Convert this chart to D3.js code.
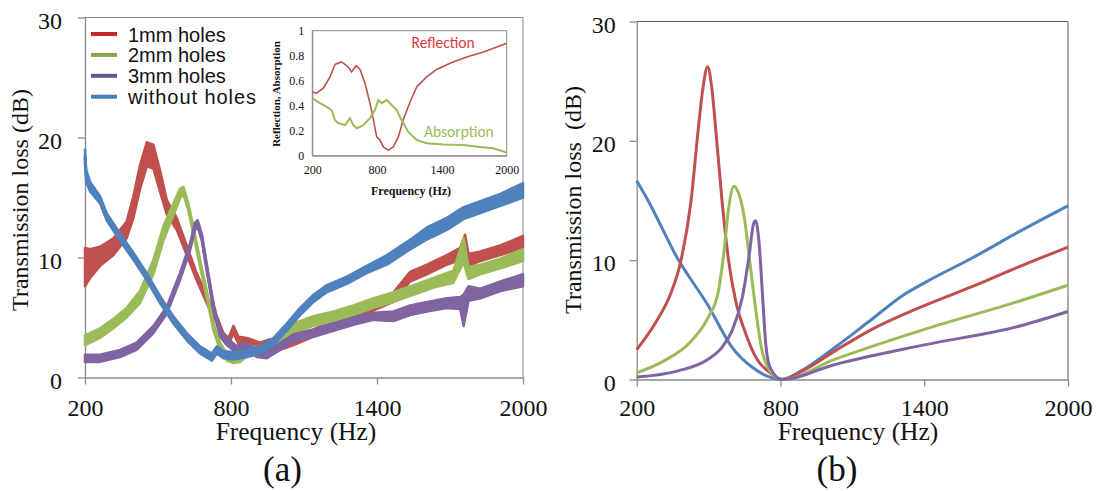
<!DOCTYPE html>
<html><head><meta charset="utf-8">
<script src="https://cdn.jsdelivr.net/npm/d3@7"></script>
<style>body{margin:0;background:#fff}svg{display:block}</style>
</head><body>
<script>
// ---------- DATA ----------
const xTicks = [200, 800, 1400, 2000];
const yTicks = [0, 10, 20, 30];
const insetYTicks = [0, 0.2, 0.4, 0.6, 0.8, 1];
const seriesNames = ["1mm holes", "2mm holes", "3mm holes", "without holes"];

// Panel (a): measured (noisy) transmission loss, value and noise half-width
const aRedF   = [200,221,262,317,371,399,426,454,481,508,536,577,618,659,700,742,769,790,810,831,865,920,961,1002,1057,1139,1221,1303,1386,1468,1536,1605,1687,1742,1762,1776,1825,1907,2000];
const aRedV   = [9.2,9.5,10.1,10.9,12.3,14.2,16.7,18.6,18.4,16.4,14.2,12.8,10.6,8.4,6.5,4.8,3.4,3.0,4.0,3.1,3.0,2.6,2.9,2.6,3.0,3.7,4.5,5.1,5.9,6.7,8.4,9.0,9.8,10.3,11.3,9.8,10.1,10.6,11.3];
const aRedS   = [1.6,1.2,0.8,0.7,0.7,0.9,1.0,1.0,1.0,0.9,0.6,0.5,0.4,0.3,0.3,0.3,0.3,0.3,0.3,0.3,0.3,0.3,0.3,0.3,0.3,0.3,0.3,0.3,0.3,0.4,0.4,0.4,0.4,0.5,0.6,0.5,0.4,0.4,0.5];

const aGreenF = [200,262,317,371,426,481,522,563,590,604,625,645,673,700,728,755,783,810,838,879,920,975,1057,1139,1221,1303,1386,1468,1550,1632,1714,1756,1776,1825,1907,2000];
const aGreenV = [3.1,3.7,4.5,5.4,6.7,9.2,12.0,14.0,15.3,15.6,14.2,12.3,9.5,7.0,4.2,2.6,1.7,1.5,1.6,2.3,2.2,2.9,4.1,4.7,5.1,5.6,6.2,6.7,7.3,7.9,8.4,10.6,8.7,9.0,9.5,10.2];
const aGreenS = [0.4,0.4,0.4,0.4,0.5,0.6,0.6,0.5,0.4,0.3,0.3,0.3,0.3,0.3,0.3,0.3,0.3,0.3,0.3,0.3,0.3,0.3,0.4,0.4,0.4,0.4,0.4,0.4,0.4,0.4,0.5,1.0,0.5,0.4,0.4,0.5];

const aPurpleF = [200,262,344,412,481,536,590,632,652,663,680,700,728,755,783,824,865,906,947,1002,1057,1139,1221,1303,1386,1468,1536,1605,1687,1742,1756,1776,1825,1907,2000];
const aPurpleV = [1.6,1.6,2.0,2.6,4.0,5.6,8.4,10.9,12.6,12.8,11.7,9.2,5.9,3.7,3.0,2.3,2.6,2.0,1.9,2.6,3.3,3.7,4.2,4.7,5.1,5.1,5.6,5.9,6.2,6.2,5.6,7.0,7.0,7.6,8.1];
const aPurpleS = [0.3,0.3,0.3,0.3,0.3,0.3,0.3,0.3,0.3,0.3,0.3,0.3,0.3,0.3,0.3,0.3,0.3,0.3,0.3,0.3,0.3,0.3,0.3,0.3,0.3,0.4,0.4,0.4,0.4,0.5,1.3,0.6,0.4,0.4,0.5];

const aBlueF  = [200,205,221,262,289,344,399,454,508,563,618,673,721,742,769,810,865,920,975,1029,1084,1139,1194,1276,1358,1441,1523,1605,1687,1756,1825,1907,2000];
const aBlueV  = [18.4,16.8,15.9,14.8,13.4,11.7,10.1,8.4,6.5,4.8,3.4,2.3,1.7,2.3,1.9,1.8,2.0,2.3,3.0,4.2,5.5,6.6,7.4,8.1,9.0,9.8,10.9,12.0,12.8,13.7,14.2,14.8,15.6];
const aBlueS  = [0.6,0.5,0.4,0.3,0.3,0.3,0.3,0.3,0.3,0.3,0.3,0.3,0.3,0.3,0.3,0.3,0.3,0.3,0.3,0.3,0.3,0.3,0.3,0.3,0.3,0.4,0.4,0.5,0.5,0.5,0.5,0.5,0.6];

// Inset: reflection and absorption coefficients
const insetReflF = [200,240,302,364,410,472,533,564,605,642,688,734,765,796,827,858,904,950,997,1043,1105,1167,1259,1352,1475,1630,1784,1908,2000];
const insetReflV = [0.51,0.50,0.54,0.63,0.73,0.75,0.71,0.67,0.72,0.69,0.58,0.42,0.29,0.15,0.125,0.07,0.045,0.07,0.15,0.29,0.43,0.55,0.63,0.69,0.74,0.79,0.83,0.87,0.90];
const insetAbsF  = [200,271,333,379,410,441,503,549,580,611,673,734,780,811,842,889,935,981,1027,1089,1167,1259,1414,1599,1753,1877,2000];
const insetAbsV  = [0.46,0.42,0.39,0.365,0.285,0.26,0.245,0.30,0.245,0.22,0.245,0.30,0.365,0.445,0.42,0.445,0.405,0.365,0.285,0.19,0.125,0.10,0.09,0.085,0.07,0.06,0.025];

// Panel (b): simulated transmission loss
const bRedF    = [200,283,340,384,427,455,477,496,513,534,556,584,613,656,699,757,806,900,1028,1172,1401,1602,1802,2000];
const bRedV    = [2.5,4.9,7.1,9.9,15.0,20.6,24.5,26.2,24.5,20.0,15.0,9.9,6.6,3.8,1.8,0.56,0,0.8,2.4,4.1,6.2,7.8,9.5,11.1];
const bGreenF  = [200,312,427,498,541,563,584,606,627,649,670,692,720,757,806,1028,1401,1802,2000];
const bGreenV  = [0.56,1.54,3.2,5.2,7.4,10.5,14.4,16.2,15.5,13.6,10.2,6.6,2.7,0.7,0,1.7,4.2,6.6,7.9];
const bPurpleF = [200,369,498,556,598,641,670,687,696,710,725,739,757,806,1028,1401,1802,2000];
const bPurpleV = [0.2,0.7,1.7,2.7,4.1,6.9,10.5,13.0,13.3,11.6,7.1,2.9,1.0,0,1.26,2.9,4.5,5.7];
const bBlueF   = [200,250,369,498,598,684,742,806,885,1028,1172,1315,1401,1602,1802,2000];
const bBlueV   = [16.65,14.9,10.2,6.2,2.7,1.0,0.3,0,0.7,2.7,4.9,7.1,8.1,10.2,12.45,14.55];

// ---------- STYLE ----------
const cRed = "#C0504D", cGreen = "#9BBB59", cPurple = "#8064A2", cBlue = "#4F81BD";
const legendColors = ["#C0282A", "#86A842", "#6A5391", "#4A7EBB"];
const serif = "Liberation Serif";
const sans = "Liberation Sans";

const svg = d3.select("body").append("svg").attr("width", 1099).attr("height", 491);

function zip(f, v, s) { return f.map((d, i) => ({f: d, v: v[i], s: s ? s[i] : 0})); }
function txt(g, font, size) { return g.append("text").style("font-family", font).style("font-size", size + "px").attr("fill", "#111"); }

function drawPanel(x, y, opts) {
  const g = svg.append("g");
  const [x0, x1] = x.range(), [y0, y1] = y.range();
  g.append("line").attr("x1", x0).attr("x2", x1).attr("y1", y1).attr("y2", y1).attr("stroke", opts.frameColor).attr("stroke-width", 1);
  g.append("line").attr("x1", x1).attr("x2", x1).attr("y1", y1).attr("y2", y0).attr("stroke", opts.frameColor).attr("stroke-width", 1);
  const ax = g.append("g").attr("transform", `translate(0,${y0})`)
    .call(d3.axisBottom(x).tickValues(xTicks).tickFormat(d3.format("d")).tickSize(7).tickSizeOuter(0).tickPadding(opts.xPad));
  const ay = g.append("g").attr("transform", `translate(${x0},0)`)
    .call(d3.axisLeft(y).tickValues(yTicks).tickFormat(d3.format("d")).tickSize(7).tickSizeOuter(0).tickPadding(opts.yPad));
  [ax, ay].forEach(a => {
    a.select(".domain").attr("stroke", "#8a8a8a").attr("stroke-width", 1.3);
    a.selectAll(".tick line").attr("stroke", "#8a8a8a").attr("stroke-width", 1.3);
    a.selectAll("text").style("font-family", serif).style("font-size", "24px").attr("fill", "#111");
  });
  ax.selectAll("text").attr("dy", "0.71em");
  ay.selectAll("text").attr("dy", "0.45em");
  return g;
}

// ---------- PANEL (a) ----------
const xa = d3.scaleLinear().domain([200, 2000]).range([85, 523]);
const ya = d3.scaleLinear().domain([0, 30]).range([377.5, 17.5]);
const ga = drawPanel(xa, ya, {frameColor: "#8a8a8a", xPad: 14, yPad: 16});

const aSeries = [
  {d: zip(aRedF, aRedV, aRedS), c: cRed},
  {d: zip(aGreenF, aGreenV, aGreenS), c: cGreen},
  {d: zip(aPurpleF, aPurpleV, aPurpleS), c: cPurple},
  {d: zip(aBlueF, aBlueV, aBlueS), c: cBlue}
];
const areaA = d3.area().x(d => xa(d.f)).y0(d => ya(d.v - d.s)).y1(d => ya(d.v + d.s)).curve(d3.curveLinear);
const lineA = d3.line().x(d => xa(d.f)).y(d => ya(d.v)).curve(d3.curveLinear);
aSeries.forEach(s => {
  ga.append("path").attr("d", areaA(s.d)).attr("fill", s.c).attr("stroke", s.c).attr("stroke-width", 2.5).attr("stroke-linejoin", "round");
  ga.append("path").attr("d", lineA(s.d)).attr("fill", "none").attr("stroke", s.c).attr("stroke-width", 3).attr("stroke-linejoin", "round");
});

// legend
const lg = ga.append("g");
seriesNames.forEach((n, i) => {
  const yy = 34 + i * 20.9;
  lg.append("line").attr("x1", 91).attr("x2", 117).attr("y1", yy).attr("y2", yy).attr("stroke", legendColors[i]).attr("stroke-width", 4);
  txt(lg, sans, 20).attr("x", 128).attr("y", yy + 7.5).attr("textLength", i === 3 ? 128 : null).text(n);
});

txt(ga, serif, 24).attr("transform", "translate(28,200) rotate(-90)").attr("text-anchor", "middle").text("Transmission loss (dB)");
txt(ga, serif, 25.5).attr("x", 296).attr("y", 440).attr("text-anchor", "middle").text("Frequency (Hz)");
txt(ga, serif, 35).attr("x", 282.5).attr("y", 481).attr("text-anchor", "middle").text("(a)");

// ---------- INSET ----------
const xi = d3.scaleLinear().domain([200, 2000]).range([312.3, 506.7]);
const yi = d3.scaleLinear().domain([0, 1]).range([155.7, 30.7]);
const gi = svg.append("g");
gi.append("rect").attr("x", 312.3).attr("y", 30.7).attr("width", 194.4).attr("height", 125).attr("fill", "none").attr("stroke", "#8a8a8a").attr("stroke-width", 1);
const ixa = gi.append("g").attr("transform", "translate(0,155.7)").call(d3.axisBottom(xi).tickValues(xTicks).tickFormat(d3.format("d")).tickSize(0).tickPadding(10));
const iya = gi.append("g").attr("transform", "translate(312.3,0)").call(d3.axisLeft(yi).tickValues(insetYTicks).tickSize(0).tickPadding(8).tickFormat(d3.format("~g")));
[ixa, iya].forEach(a => {
  a.select(".domain").attr("stroke", "#8a8a8a");
  a.selectAll("text").style("font-family", serif).style("font-size", "12px").attr("fill", "#111");
});
ixa.selectAll("text").attr("dy", "0.71em");
const lineI = d3.line().x(d => xi(d.f)).y(d => yi(d.v)).curve(d3.curveLinear);
gi.append("path").attr("d", lineI(zip(insetReflF, insetReflV))).attr("fill", "none").attr("stroke", cRed).attr("stroke-width", 1.6);
gi.append("path").attr("d", lineI(zip(insetAbsF, insetAbsV))).attr("fill", "none").attr("stroke", cGreen).attr("stroke-width", 2);
txt(gi, "Carlito", 15.5).attr("x", 411.5).attr("y", 48).attr("fill", "#E03A3A").text("Reflection");
txt(gi, "Carlito", 15.5).attr("x", 424).attr("y", 136.5).attr("fill", cGreen).text("Absorption");
txt(gi, serif, 11).attr("transform", "translate(280,94) rotate(-90)").attr("text-anchor", "middle").attr("font-weight", "bold").text("Reflection, Absorption");
txt(gi, serif, 12).attr("x", 411).attr("y", 195).attr("text-anchor", "middle").attr("font-weight", "bold").text("Frequency (Hz)");

// ---------- PANEL (b) ----------
const xb = d3.scaleLinear().domain([200, 2000]).range([636.7, 1068]);
const yb = d3.scaleLinear().domain([0, 30]).range([379.5, 21.5]);
const gb = drawPanel(xb, yb, {frameColor: "#5a5a5a", xPad: 12, yPad: 14});
const lineB = d3.line().x(d => xb(d.f)).y(d => yb(d.v)).curve(d3.curveMonotoneX);
[
  {d: zip(bBlueF, bBlueV), c: cBlue},
  {d: zip(bRedF, bRedV), c: cRed},
  {d: zip(bGreenF, bGreenV), c: cGreen},
  {d: zip(bPurpleF, bPurpleV), c: cPurple}
].forEach(s => {
  gb.append("path").attr("d", lineB(s.d)).attr("fill", "none").attr("stroke", s.c).attr("stroke-width", 3).attr("stroke-linejoin", "round");
});
txt(gb, serif, 24).attr("transform", "translate(581,200) rotate(-90)").attr("text-anchor", "middle").style("white-space", "pre").text("Transmission loss  (dB)");
txt(gb, serif, 25.5).attr("x", 858).attr("y", 440).attr("text-anchor", "middle").text("Frequency (Hz)");
txt(gb, serif, 35).attr("x", 837).attr("y", 481).attr("text-anchor", "middle").text("(b)");
</script>
</body></html>
